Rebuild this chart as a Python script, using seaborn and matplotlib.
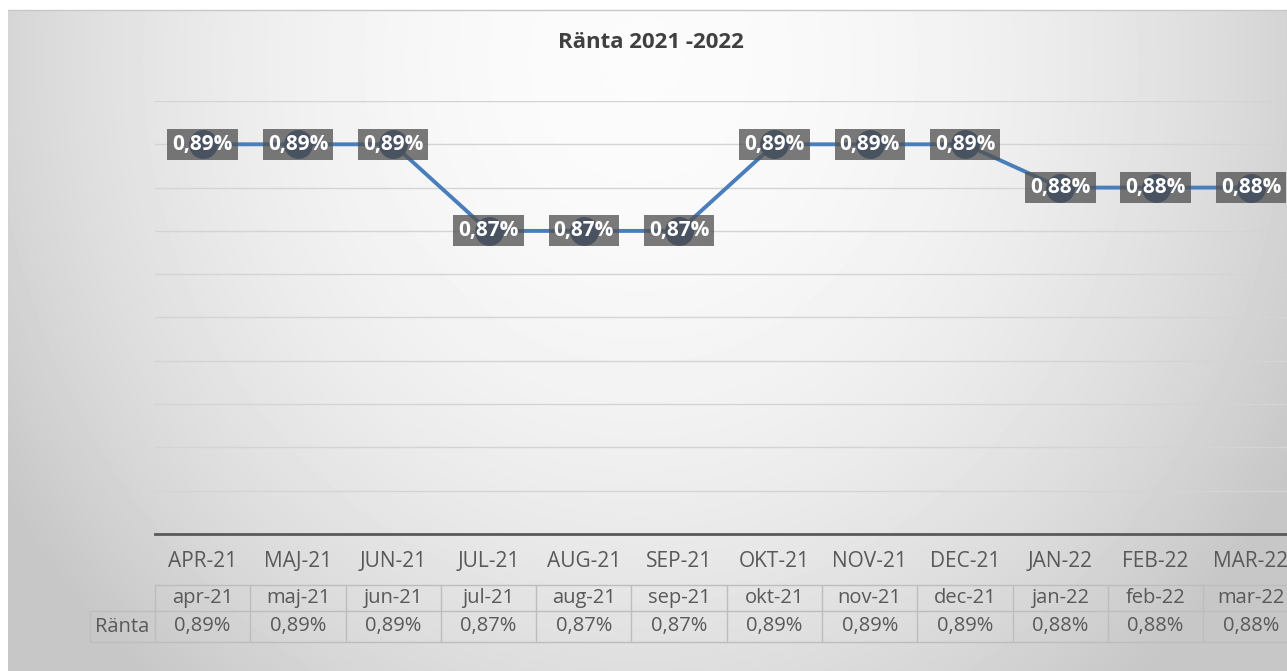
import numpy as np
import pandas as pd
import matplotlib.pyplot as plt
import seaborn as sns

# data
months = ["apr-21", "maj-21", "jun-21", "jul-21", "aug-21", "sep-21",
          "okt-21", "nov-21", "dec-21", "jan-22", "feb-22", "mar-22"]
ranta = [0.89, 0.89, 0.89, 0.87, 0.87, 0.87, 0.89, 0.89, 0.89, 0.88, 0.88, 0.88]
row_label = "Ränta"
title = "Ränta 2021 -2022"

df = pd.DataFrame({"month": months, "ranta": ranta})


def fmt(v):
    return f"{v:.2f}%".replace(".", ",")


sns.set_theme(style="white")
plt.rcParams["font.family"] = ["Open Sans", "DejaVu Sans"]

W, H = 1287, 671
fig = plt.figure(figsize=(W / 100, H / 100), dpi=100)
fig.patch.set_facecolor("white")

# background gradient (excel-ish radial fill)
bg = fig.add_axes([0, 0, 1, 1], zorder=-1)
yy, xx = np.mgrid[0:H, 0:W]
r2 = ((xx - 640) / 640.0) ** 2 + ((yy - 60) / 700.0) ** 2
grad = np.clip(0.985 - 0.15 * r2, 0.78, 1.0)
grad[:10, :] = 1.0
grad[:, :8] = 1.0
bg.imshow(grad, cmap="gray", vmin=0, vmax=1, aspect="auto",
          extent=(0, W, H, 0), interpolation="bilinear")
bg.plot([8, W], [10, 10], color="#c8c8c8", lw=1)
bg.set_xlim(0, W)
bg.set_ylim(H, 0)
bg.axis("off")

# main axes: plot area 155..1299 px wide, 101..534 px tall
left = 155 / W
width = (12 * 95.3) / W
bottom = (H - 534) / H
height = 433 / H
ax = fig.add_axes([left, bottom, width, height])
ax.patch.set_alpha(0)

sns.lineplot(data=df, x="month", y="ranta", ax=ax, color="#4a7ebb",
             linewidth=2.8, marker="o", markersize=20,
             markerfacecolor="#2f528f", markeredgecolor="#2f528f", zorder=3)

for i, v in enumerate(ranta):
    ax.text(i, v, fmt(v), ha="center", va="center", color="white",
            fontsize=15, fontweight="bold", zorder=5,
            bbox=dict(boxstyle="square,pad=0.24", facecolor="#525252",
                      edgecolor="none", alpha=0.77))

ax.set_xlim(-0.5, 11.5)
ax.set_ylim(0.80, 0.90)
ax.set_yticks(np.arange(0.80, 0.9001, 0.01))
ax.set_yticklabels([])
ax.tick_params(axis="y", length=0)
ax.grid(axis="y", color="#d4d4d4", lw=1)
ax.set_axisbelow(True)
for s in ["top", "right", "left"]:
    ax.spines[s].set_visible(False)
ax.spines["bottom"].set_color("#595959")
ax.spines["bottom"].set_linewidth(2)

ax.set_xticks(range(len(months)))
ax.set_xticklabels([m.upper() for m in months], color="#595959", fontsize=15)
ax.tick_params(axis="x", length=0, pad=12)
ax.set_xlabel("")
ax.set_ylabel("")

# data table under the axis
tr = ax.get_xaxis_transform()
y_top, y_mid, y_bot = -51 / 433, -77 / 433, -108 / 433
line_kw = dict(color="#bdbdbd", lw=1, transform=tr, clip_on=False)
n = len(months)
x_hdr = -0.5 - 65 / 95.3
ax.plot([-0.5, n - 0.5], [y_top, y_top], **line_kw)
ax.plot([x_hdr, n - 0.5], [y_mid, y_mid], **line_kw)
ax.plot([x_hdr, n - 0.5], [y_bot, y_bot], **line_kw)
ax.plot([x_hdr, x_hdr], [y_mid, y_bot], **line_kw)
for i in range(n):
    ax.plot([i - 0.5, i - 0.5], [y_top, y_bot], **line_kw)
for i, (m, v) in enumerate(zip(months, ranta)):
    ax.text(i, (y_top + y_mid) / 2, m, transform=tr, ha="center",
            va="center", color="#595959", fontsize=14.5)
    ax.text(i, (y_mid + y_bot) / 2, fmt(v), transform=tr, ha="center",
            va="center", color="#595959", fontsize=14.5)
ax.text((x_hdr - 0.5) / 2, (y_mid + y_bot) / 2, row_label, transform=tr,
        ha="center", va="center", color="#595959", fontsize=14.5)

fig.text(651 / W, 1 - 43 / H, title, ha="center", va="center",
         color="#404040", fontsize=16, fontweight="bold")

fig.savefig("out.png", dpi=100)
